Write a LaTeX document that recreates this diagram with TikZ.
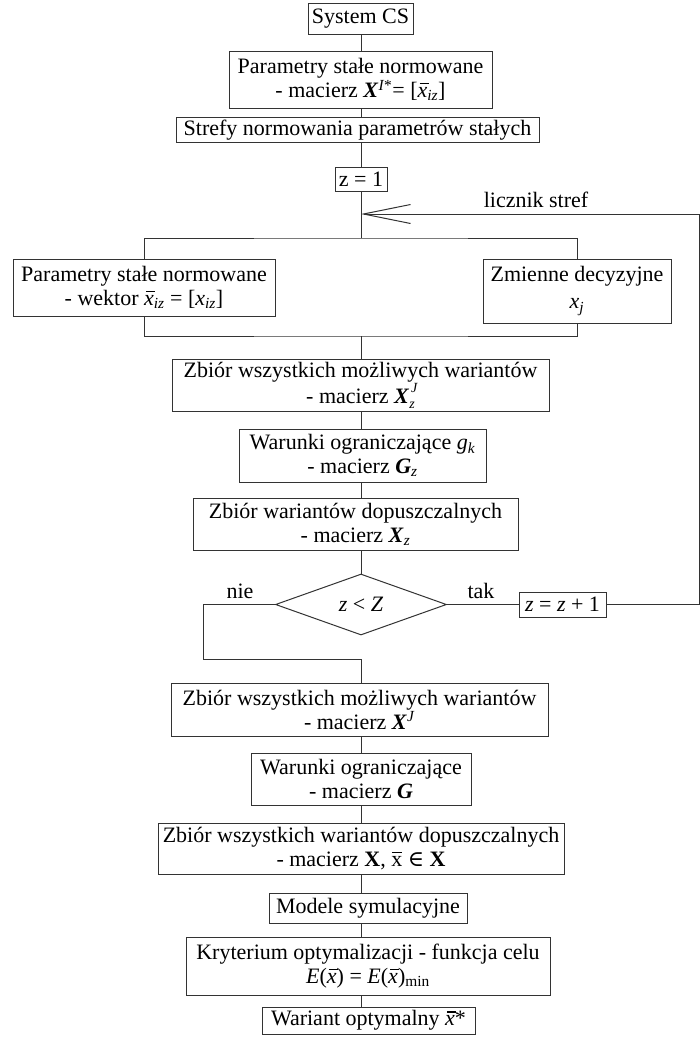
\documentclass[tikz,border=0pt]{standalone}
\usepackage{fontspec}
\setmainfont{Liberation Serif}
\newfontfamily\symfont{DejaVu Serif}
\usetikzlibrary{shapes.geometric,arrows.meta}
% x with a bar drawn as a rule, sub- and superscripts in the text font
\newcommand{\xbar}{\leavevmode\rlap{\kern0.09em\rule[0.6em]{0.42em}{0.05em}}\textit{x}}
\newcommand{\xbarup}{\leavevmode\rlap{\kern0.02em\rule[0.6em]{0.46em}{0.05em}}x}
\newcommand{\sub}[1]{\textsubscript{\textit{#1}}}
\newcommand{\sups}[1]{\textsuperscript{#1}}
% superscript J stacked over subscript z
\newcommand{\supsub}[2]{\leavevmode\rlap{\kern0.08em\raisebox{0.5em}{\fontsize{14}{14}\selectfont\textit{#1}}}\raisebox{-0.22em}{\fontsize{14}{14}\selectfont\textit{#2}}}
\begin{document}
\begin{tikzpicture}[x=1pt,y=-1pt,
  every node/.style={font=\fontsize{22}{24}\selectfont},
  box/.style={draw=black!80, line width=1pt, align=center, inner xsep=3pt, inner ysep=2pt},
  ln/.style={draw=black!80, line width=1pt},
  lbl/.style={inner sep=0pt}]
\useasboundingbox[fill=white] (0,0) rectangle (700,1039);

% main axis
\coordinate (ax) at (361,0);

% upper part
\node[box, minimum width=105pt, minimum height=31pt] (sys) at (360.5,18.5) {System CS};
\node[box, minimum width=263pt, minimum height=57pt] (par) at (360.5,79.5)
  {Parametry stałe normowane\\- macierz \textbf{\textit{X}}\sups{\textit{I}*}= [\xbar\sub{iz}]};
\node[box, minimum width=363pt, minimum height=24pt] (stf) at (357.5,130) {Strefy normowania parametrów stałych};
\node[box, minimum width=52pt, minimum height=24pt] (z1) at (361,179) {z = 1};

\coordinate (tip) at (361,214);
\coordinate (rt) at (699,214);
\coordinate (br) at (361,238);
\coordinate (mg) at (361,336);
\node[lbl] (lic) at (536,200) {licznik stref};

% two branches
\node[box, minimum width=262pt, minimum height=57pt] (lb) at (144,287.5)
  {Parametry stałe normowane\\- wektor \xbar\sub{iz} = [\textit{x}\sub{iz}]};
\node[box, minimum width=188pt, minimum height=64pt] (rb) at (577,291)
  {Zmienne decyzyjne\\[3pt]\textit{x}\sub{j}};

% zone loop
\node[box, minimum width=377pt, minimum height=52pt] (zb1) at (360.5,385)
  {Zbiór wszystkich możliwych wariantów\\- macierz \textbf{\textit{X}}\supsub{J}{z}};
\node[box, minimum width=247pt, minimum height=53pt] (war1) at (362.5,455.5)
  {Warunki ograniczające \textit{g}\sub{k}\\- macierz \textbf{\textit{G}}\sub{z}};
\node[box, minimum width=325pt, minimum height=52pt] (dop1) at (355.5,524)
  {Zbiór wariantów dopuszczalnych\\- macierz \textbf{\textit{X}}\sub{z}};
\node[draw=black!80, line width=1pt, shape=diamond, minimum width=171pt, minimum height=61pt, inner sep=0pt] (dia) at (361,604.5)
  {\textit{z} < \textit{Z}};
\node[lbl] (nie) at (240,591) {nie};
\node[lbl] (tak) at (481,591) {tak};
\node[box, minimum width=87pt, minimum height=25pt, inner sep=1pt] (inc) at (562.5,604.5) {\textit{z} = \textit{z} + 1};
\coordinate (nc) at (203,659);

% lower part
\node[box, minimum width=377pt, minimum height=53pt] (zb2) at (359.5,709.5)
  {Zbiór wszystkich możliwych wariantów\\- macierz \textbf{\textit{X}}\sups{\textit{J}}};
\node[box, minimum width=220pt, minimum height=52pt] (war2) at (361,779)
  {Warunki ograniczające\\- macierz \textbf{\textit{G}}};
\node[box, minimum width=406pt, minimum height=51pt] (dop2) at (361,848.5)
  {Zbiór wszystkich wariantów dopuszczalnych\\- macierz \textbf{X}, \xbarup{} {\symfont ∈} \textbf{X}};
\node[box, minimum width=198pt, minimum height=30pt] (mod) at (368,908) {Modele symulacyjne};
\node[box, minimum width=364pt, minimum height=58pt] (kry) at (368,966)
  {Kryterium optymalizacji - funkcja celu\\\textit{E}(\xbar) = \textit{E}(\xbar)\textsubscript{min}};
\node[box, minimum width=213pt, minimum height=27pt] (opt) at (368.5,1020.5) {Wariant optymalny \xbar*};

% connectors
\draw[ln] (sys.south -| ax) -- (par.north -| ax);
\draw[ln] (par.south -| ax) -- (stf.north -| ax);
\draw[ln] (stf.south -| ax) -- (z1.north -| ax);
\draw[ln] (z1.south -| ax) -- (br);
\draw[ln] (lb.north) |- (br) -| (rb.north);
\draw[ln] (lb.south) |- (mg) -| (rb.south);
\draw[ln] (mg) -- (zb1.north -| ax);
\draw[ln] (zb1.south -| ax) -- (war1.north -| ax);
\draw[ln] (war1.south -| ax) -- (dop1.north -| ax);
\draw[ln] (dop1.south -| ax) -- (dia.north);
\draw[ln] (dia.east) -- (inc.west);
\draw[ln, -{Straight Barb[length=47pt,width=19pt]}] (inc.east) -| (rt) -- (tip);
\draw[ln] (dia.west) -| (nc) -- (nc -| ax) -- (zb2.north -| ax);
\draw[ln] (zb2.south -| ax) -- (war2.north -| ax);
\draw[ln] (war2.south -| ax) -- (dop2.north -| ax);
\draw[ln] (dop2.south -| ax) -- (mod.north -| ax);
\draw[ln] (mod.south -| ax) -- (kry.north -| ax);
\draw[ln] (kry.south -| ax) -- (opt.north -| ax);
\end{tikzpicture}
\end{document}
